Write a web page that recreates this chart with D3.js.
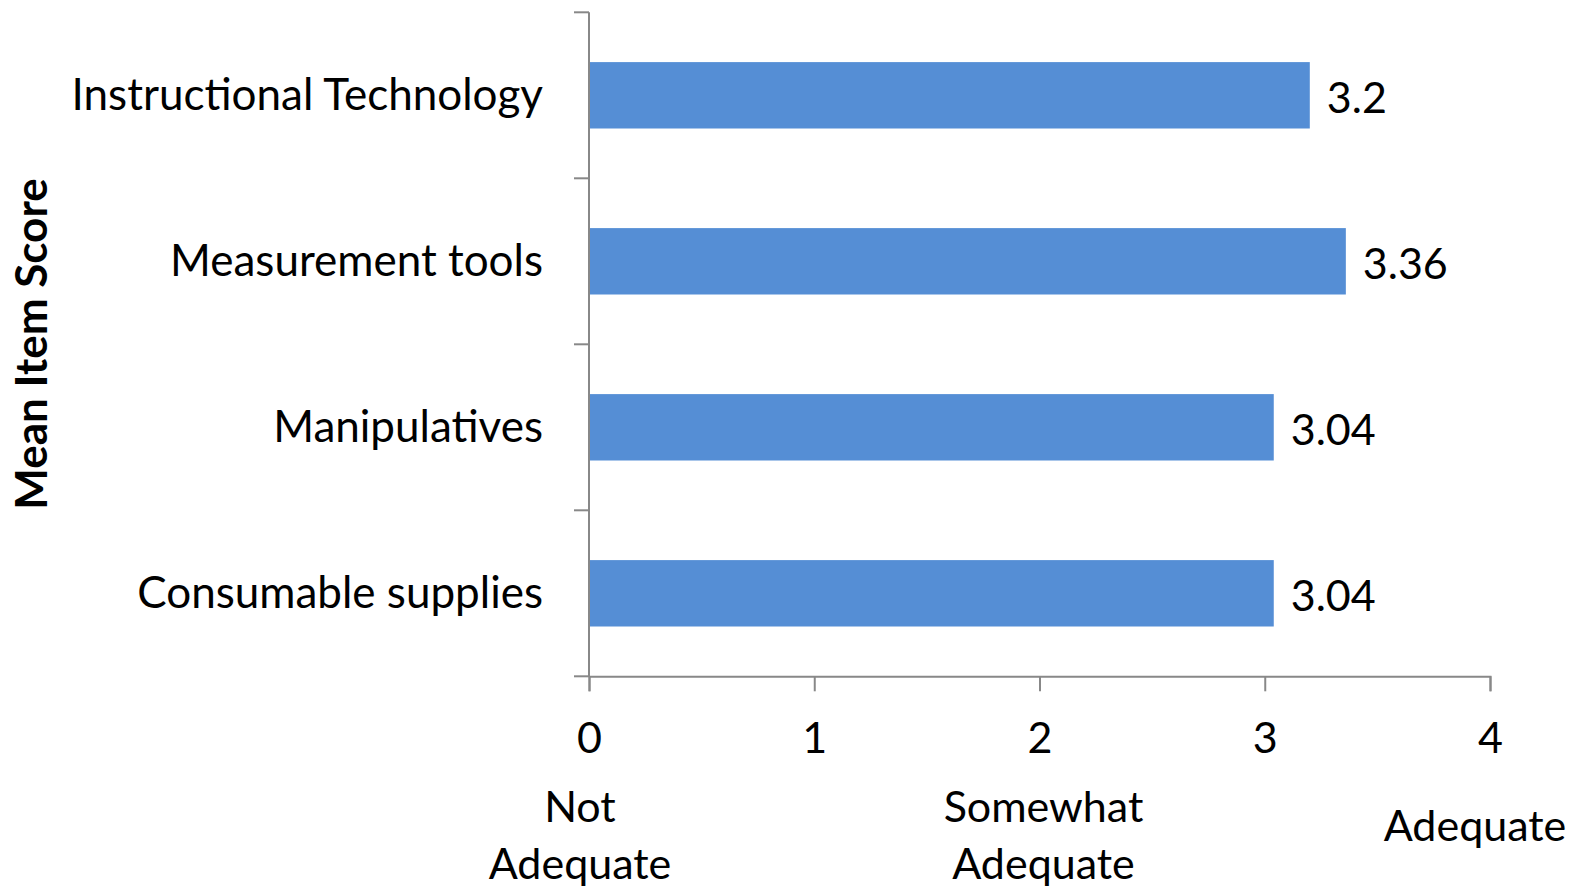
<!DOCTYPE html>
<html><head><meta charset="utf-8">
<script src="https://cdn.jsdelivr.net/npm/d3@7"></script>
<style>body{margin:0;background:#fff}svg{display:block}text{font-family:Lato,"Open Sans",sans-serif;fill:#000}</style>
</head><body><svg id="c" width="1575" height="887"></svg>
<script>
const categories = ["Instructional Technology","Measurement tools","Manipulatives","Consumable supplies"];
const values = [3.2, 3.36, 3.04, 3.04];
const valueLabels = ["3.2","3.36","3.04","3.04"];
const xTicks = [0,1,2,3,4];
const scaleLabels = [{v:0, lines:["Not","Adequate"]},{v:2, lines:["Somewhat","Adequate"]},{v:4, lines:["Adequate"]}];
const yTitle = "Mean Item Score";

(function(){
const svg = d3.select("#c");
const pLeft = 589, pRight = 1490, pTop = 12.3, pBottom = 676.3;
const x = d3.scaleLinear().domain([0,4]).range([pLeft,pRight]);
const y = d3.scaleBand().domain(categories).range([pTop,pBottom]).paddingInner(0.6).paddingOuter(0.3);
const axisColor = "#888";
const fs = 43;

svg.append("g").selectAll("rect").data(values).join("rect")
  .attr("x", x(0)).attr("y",(d,i)=>y(categories[i]))
  .attr("width", d=>x(d)-x(0)).attr("height", y.bandwidth())
  .attr("fill","#558ED5");

const gy = svg.append("g");
gy.append("line").attr("x1",pLeft).attr("x2",pLeft).attr("y1",pTop).attr("y2",pBottom).attr("stroke",axisColor).attr("stroke-width",2);
const step = y.step();
d3.range(categories.length+1).forEach(i=>{
  const yy = pTop + i*step;
  gy.append("line").attr("x1",pLeft-15).attr("x2",pLeft).attr("y1",yy).attr("y2",yy).attr("stroke",axisColor).attr("stroke-width",2);
});
svg.append("g").selectAll("text").data(categories).join("text")
  .attr("x", pLeft-46).attr("y", d=>y(d)+y.bandwidth()/2-2)
  .attr("text-anchor","end").attr("dominant-baseline","central")
  .attr("font-size",44).text(d=>d);

const gx = svg.append("g").attr("transform",`translate(0,${pBottom})`)
  .call(d3.axisBottom(x).tickValues(xTicks).tickSize(15).tickPadding(31).tickFormat(d3.format("d")));
gx.select(".domain").attr("stroke",axisColor).attr("stroke-width",2);
gx.selectAll(".tick line").attr("stroke",axisColor).attr("stroke-width",2);
gx.selectAll(".tick text").attr("font-size",fs).attr("font-family","Lato,'Open Sans',sans-serif").attr("fill","#000");

svg.append("g").selectAll("text").data(values).join("text")
  .attr("x", d=>x(d)+17).attr("y",(d,i)=>y(categories[i])+y.bandwidth()/2+1)
  .attr("dominant-baseline","central").attr("font-size",fs).text((d,i)=>valueLabels[i]);

const sl = svg.append("g");
scaleLabels.forEach(s=>{
  const n = s.lines.length;
  const cx = s.v===4 ? x(s.v)-15 : x(s.v)-9+ (s.v===2?13:0);
  const y0 = n===1 ? 824 : 805;
  s.lines.forEach((ln,j)=>{
    sl.append("text").attr("x",cx).attr("y",y0+j*57).attr("text-anchor","middle")
      .attr("dominant-baseline","central").attr("font-size",fs).text(ln);
  });
});

svg.append("text").attr("transform","translate(30,344) rotate(-90)")
  .attr("text-anchor","middle").attr("dominant-baseline","central")
  .attr("font-size",44).attr("font-weight","bold").text(yTitle);
})();
</script></body></html>
